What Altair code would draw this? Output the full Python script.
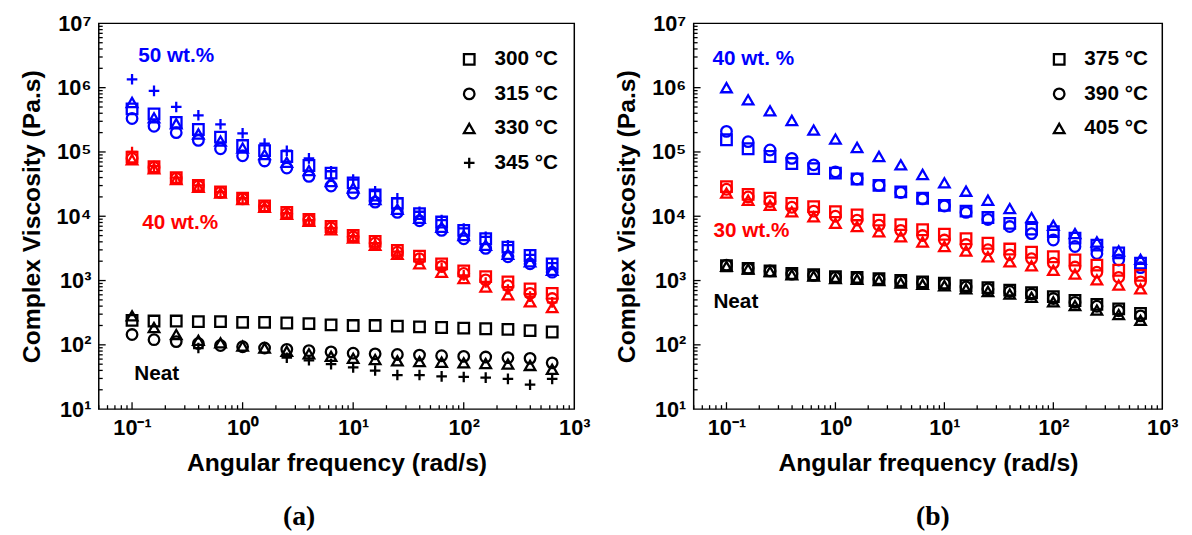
import altair as alt
import pandas as pd

# ---------------- data (log10 of complex viscosity, Pa.s) ----------------
freq = [0.1, 0.158, 0.251, 0.398, 0.631, 1.0, 1.58, 2.51, 3.98, 6.31,
        10.0, 15.8, 25.1, 39.8, 63.1, 100.0, 158.0, 251.0, 398.0, 631.0]

# Panel (a)
a_groups = ["50 wt.%", "40 wt.%", "Neat"]
a_temps = ["300 °C", "315 °C", "330 °C", "345 °C"]
a50_300 = [5.67, 5.59, 5.46, 5.35, 5.23, 5.10, 5.02, 4.93, 4.79, 4.67, 4.52, 4.33, 4.20, 4.04, 3.91, 3.78, 3.65, 3.52, 3.39, 3.26]
a50_315 = [5.52, 5.40, 5.30, 5.18, 5.05, 4.94, 4.86, 4.75, 4.62, 4.47, 4.36, 4.22, 4.06, 3.93, 3.78, 3.65, 3.50, 3.37, 3.26, 3.13]
a50_330 = [5.77, 5.53, 5.44, 5.28, 5.17, 5.06, 4.96, 4.84, 4.71, 4.54, 4.44, 4.26, 4.11, 3.97, 3.83, 3.70, 3.55, 3.41, 3.29, 3.16]
a50_345 = [6.13, 5.95, 5.70, 5.57, 5.43, 5.29, 5.13, 5.02, 4.90, 4.70, 4.57, 4.39, 4.28, 4.07, 3.94, 3.81, 3.68, 3.55, 3.40, 3.27]
a40_300 = [4.92, 4.77, 4.60, 4.48, 4.38, 4.28, 4.16, 4.06, 3.95, 3.84, 3.70, 3.61, 3.47, 3.38, 3.26, 3.15, 3.06, 2.98, 2.87, 2.80]
a40_315 = [4.90, 4.76, 4.59, 4.47, 4.37, 4.27, 4.15, 4.04, 3.94, 3.82, 3.68, 3.58, 3.44, 3.34, 3.22, 3.11, 3.01, 2.92, 2.80, 2.72]
a40_330 = [4.88, 4.74, 4.57, 4.45, 4.36, 4.26, 4.14, 4.03, 3.92, 3.79, 3.66, 3.55, 3.41, 3.26, 3.13, 3.03, 2.90, 2.78, 2.67, 2.58]
a40_345 = [5.00, 4.78, 4.60, 4.48, 4.38, 4.28, 4.16, 4.05, 3.94, 3.82, 3.69, 3.58, 3.45, 3.33, 3.20, 3.08, 2.97, 2.86, 2.75, 2.66]
a0_300 = [2.38, 2.37, 2.37, 2.36, 2.36, 2.35, 2.35, 2.34, 2.33, 2.31, 2.30, 2.30, 2.29, 2.28, 2.27, 2.26, 2.25, 2.24, 2.22, 2.20]
a0_315 = [2.16, 2.08, 2.05, 2.02, 1.99, 1.97, 1.95, 1.93, 1.91, 1.89, 1.87, 1.86, 1.85, 1.84, 1.83, 1.82, 1.81, 1.80, 1.79, 1.72]
a0_330 = [2.45, 2.27, 2.16, 2.07, 2.03, 1.98, 1.95, 1.90, 1.86, 1.82, 1.79, 1.77, 1.75, 1.74, 1.73, 1.72, 1.71, 1.70, 1.68, 1.62]
a0_345 = [None, None, None, 1.95, None, None, None, 1.80, 1.76, 1.70, 1.65, 1.60, 1.53, 1.53, 1.51, 1.50, 1.49, 1.47, 1.38, 1.47]

# Panel (b)
b_groups = ["40 wt. %", "30 wt.%", "Neat"]
b_temps = ["375 °C", "390 °C", "405 °C"]
b40_375 = [5.19, 5.05, 4.93, 4.82, 4.74, 4.67, 4.58, 4.48, 4.38, 4.28, 4.17, 4.08, 3.98, 3.89, 3.80, 3.76, 3.66, 3.55, 3.43, 3.27]
b40_390 = [5.32, 5.16, 5.03, 4.90, 4.80, 4.69, 4.58, 4.48, 4.37, 4.27, 4.16, 4.06, 3.95, 3.84, 3.73, 3.63, 3.53, 3.42, 3.32, 3.20]
b40_405 = [6.00, 5.81, 5.64, 5.49, 5.34, 5.20, 5.07, 4.93, 4.80, 4.65, 4.52, 4.39, 4.25, 4.12, 3.98, 3.86, 3.73, 3.60, 3.46, 3.33]
b30_375 = [4.46, 4.34, 4.28, 4.20, 4.15, 4.07, 4.02, 3.94, 3.87, 3.79, 3.72, 3.65, 3.58, 3.49, 3.44, 3.37, 3.32, 3.24, 3.16, 3.08]
b30_390 = [4.42, 4.30, 4.23, 4.14, 4.08, 4.00, 3.94, 3.86, 3.78, 3.70, 3.63, 3.56, 3.48, 3.40, 3.34, 3.27, 3.21, 3.13, 3.05, 2.98]
b30_405 = [4.36, 4.25, 4.17, 4.07, 3.99, 3.89, 3.84, 3.76, 3.68, 3.60, 3.53, 3.46, 3.37, 3.29, 3.23, 3.16, 3.10, 3.01, 2.93, 2.87]
b0_375 = [3.23, 3.19, 3.15, 3.11, 3.09, 3.06, 3.05, 3.03, 3.00, 2.98, 2.96, 2.92, 2.89, 2.85, 2.81, 2.75, 2.69, 2.63, 2.56, 2.49]
b0_390 = [3.24, 3.19, 3.15, 3.10, 3.08, 3.05, 3.04, 3.02, 2.99, 2.97, 2.95, 2.90, 2.87, 2.83, 2.79, 2.72, 2.66, 2.60, 2.53, 2.45]
b0_405 = [3.22, 3.18, 3.14, 3.09, 3.07, 3.03, 3.02, 3.00, 2.96, 2.94, 2.92, 2.87, 2.83, 2.79, 2.74, 2.67, 2.61, 2.54, 2.47, 2.38]

# tick values / labels
x_major = [0.1, 1, 10, 100, 1000]
x_labels = ["10⁻¹", "10⁰", "10¹", "10²", "10³"]
x_minor = [0.05, 0.06, 0.07, 0.08, 0.09, 0.2, 0.3, 0.4, 0.5, 0.6, 0.7, 0.8, 0.9,
           2, 3, 4, 5, 6, 7, 8, 9, 20, 30, 40, 50, 60, 70, 80, 90,
           200, 300, 400, 500, 600, 700, 800, 900]
y_major = [10, 100, 1e3, 1e4, 1e5, 1e6, 1e7]
y_labels = ["10¹", "10²", "10³", "10⁴", "10⁵", "10⁶", "10⁷"]
y_minor = [m * d for d in [10, 100, 1e3, 1e4, 1e5, 1e6] for m in [2, 3, 4, 5, 6, 7, 8, 9]]

colors = ["#0000FF", "#FF0000", "#000000"]
plus_path = "M-1,0H1M0,-1V1"

FONT = "Liberation Sans"


def long_df(groups, temps, table):
    recs = []
    for gi, g in enumerate(groups):
        for ti, t in enumerate(temps):
            for f, v in zip(freq, table[gi][ti]):
                if v is None:
                    continue
                recs.append({"freq": f, "eta": 10 ** v, "group": g, "temp": t})
    return pd.DataFrame(recs)


def panel(df, groups, temps, shapes, texts, text_pos, W, H, legend_xy, sub, sub_dx):
    xs = alt.Scale(type="log", domain=[0.05, 1000], nice=False)
    ys = alt.Scale(type="log", domain=[10, 1e7], nice=False)
    xlab = "[" + ",".join("'%s'" % s for s in x_labels) + "][round(log(datum.value)/LN10)+1]"
    ylab = "[" + ",".join("'%s'" % s for s in y_labels) + "][round(log(datum.value)/LN10)-1]"

    pts = alt.Chart(df).mark_point(filled=False, strokeWidth=2.3, size=115, opacity=1).encode(
        x=alt.X("freq:Q", scale=xs,
                axis=alt.Axis(values=x_major, labelExpr=xlab, title="Angular frequency (rad/s)",
                              labelFlush=False, labelOverlap=False, labelPadding=9, titlePadding=12)),
        y=alt.Y("eta:Q", scale=ys,
                axis=alt.Axis(values=y_major, labelExpr=ylab, title="Complex Viscosity (Pa.s)",
                              labelFlush=False, labelOverlap=False, labelPadding=8, titlePadding=12)),
        color=alt.Color("group:N", scale=alt.Scale(domain=groups, range=colors), legend=None),
        shape=alt.Shape("temp:N", scale=alt.Scale(domain=temps, range=shapes),
                        legend=alt.Legend(title=None, orient="none", legendX=legend_xy[0], legendY=legend_xy[1],
                                          symbolStrokeColor="black", symbolFillColor="transparent",
                                          symbolStrokeWidth=2.3, symbolSize=115,
                                          labelFont=FONT, labelFontWeight="bold", labelFontSize=21,
                                          labelColor="black", labelOffset=15, rowPadding=13)),
    )

    layers = [pts]
    for (txt, col), (px, py) in zip(texts, text_pos):
        layers.append(alt.Chart(pd.DataFrame({"t": [txt]})).mark_text(
            align="left", baseline="middle", font=FONT, fontWeight="bold", fontSize=21, color=col
        ).encode(text="t:N", x=alt.value(px), y=alt.value(py)))

    xmaj = alt.Chart(pd.DataFrame({"v": x_major[:-1]})).mark_rule(color="black", strokeWidth=1.3).encode(
        x=alt.X("v:Q", scale=xs), y=alt.value(H), y2=alt.value(H - 7))
    xmin = alt.Chart(pd.DataFrame({"v": x_minor})).mark_rule(color="black", strokeWidth=1.3).encode(
        x=alt.X("v:Q", scale=xs), y=alt.value(H), y2=alt.value(H - 4))
    ymaj = alt.Chart(pd.DataFrame({"v": y_major[1:-1]})).mark_rule(color="black", strokeWidth=1.3).encode(
        y=alt.Y("v:Q", scale=ys), x=alt.value(0), x2=alt.value(7))
    ymin = alt.Chart(pd.DataFrame({"v": y_minor})).mark_rule(color="black", strokeWidth=1.3).encode(
        y=alt.Y("v:Q", scale=ys), x=alt.value(0), x2=alt.value(4))
    layers += [xmaj, xmin, ymaj, ymin]

    return alt.layer(*layers).properties(
        width=W, height=H,
        title=alt.TitleParams(sub, orient="bottom", font="Liberation Serif", fontSize=28, fontWeight="bold",
                              color="black", frame="group", anchor="middle", dx=sub_dx, offset=28),
    )


df_a = long_df(a_groups, a_temps, [[a50_300, a50_315, a50_330, a50_345],
                                   [a40_300, a40_315, a40_330, a40_345],
                                   [a0_300, a0_315, a0_330, a0_345]])
df_b = long_df(b_groups, b_temps, [[b40_375, b40_390, b40_405],
                                   [b30_375, b30_390, b30_405],
                                   [b0_375, b0_390, b0_405]])

pa = panel(df_a, a_groups, a_temps, ["square", "circle", "triangle-up", plus_path],
           [("50 wt.%", colors[0]), ("40 wt.%", colors[1]), ("Neat", colors[2])],
           [(40, 33), (44, 202), (36, 355)], 482, 391, (365, 26), "(a)", -38)
pb = panel(df_b, b_groups, b_temps, ["square", "circle", "triangle-up"],
           [("40 wt. %", colors[0]), ("30 wt.%", colors[1]), ("Neat", colors[2])],
           [(19, 36), (20, 211), (20, 282)], 475, 391, (360, 26), "(b)", 5)

chart = alt.hconcat(pa, pb, spacing=22).resolve_scale(
    color="independent", shape="independent", x="independent", y="independent"
).properties(
    padding={"left": 10, "top": 0, "right": 5, "bottom": 0},
    background="white",
).configure_view(stroke="black", strokeWidth=1.5).configure_axis(
    domain=False, ticks=False, grid=False,
    labelFont=FONT, labelFontWeight="bold", labelFontSize=22, labelColor="black",
    titleFont=FONT, titleFontWeight="bold", titleFontSize=25, titleColor="black",
)

chart.save("out.html", embed_options={"renderer": "svg", "actions": False})
